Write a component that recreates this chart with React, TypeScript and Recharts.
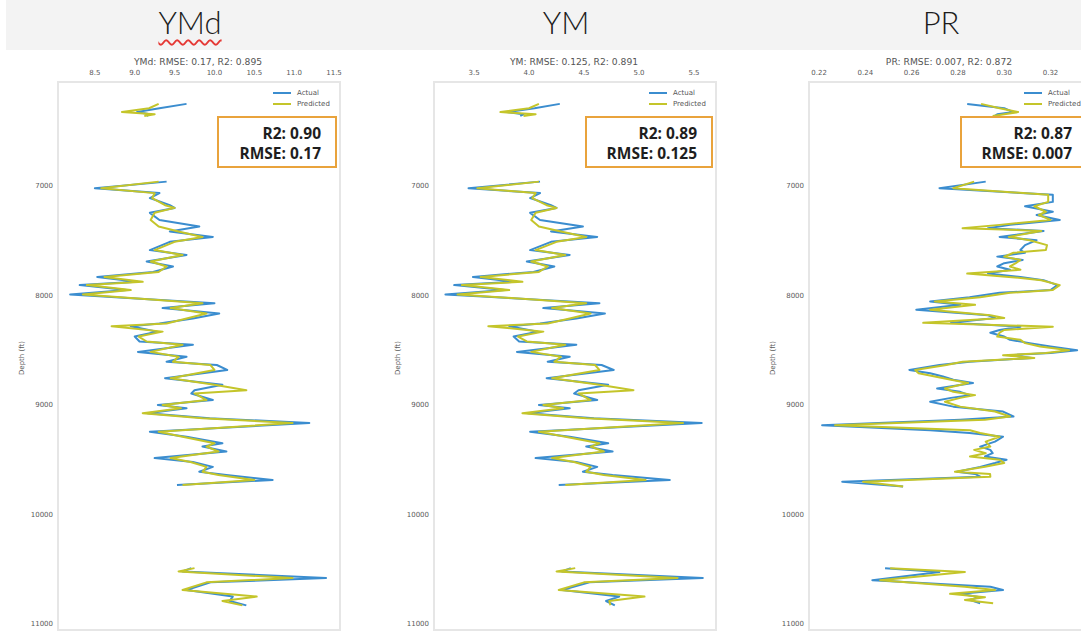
import React from 'react';
import { LineChart, Line, XAxis, YAxis } from 'recharts';

// depths (ft) shared by the YMd and YM panels; null rows mark the gaps between logged intervals
const ymDepth = [
  6250, 6290, 6325, 6345, 6360,
  6600,
  6960, 7020, 7065, 7110, 7175, 7200, 7245, 7310, 7370, 7415,
  7465, 7510, 7585, 7630, 7690, 7735, 7785, 7830, 7875, 7905,
  7950, 7990, 8070, 8115, 8165, 8210, 8255, 8280, 8330, 8375,
  8420, 8450, 8515, 8560, 8605, 8635, 8680, 8755, 8815, 8865,
  8895, 8955, 9000, 9030, 9075, 9120, 9165, 9245, 9290, 9350,
  9380, 9425, 9485, 9520, 9565, 9610, 9640, 9685, 9730,
  10100,
  10490, 10520, 10580, 10620, 10690, 10750, 10790, 10830,
];

const ymdActual = [
  9.65, 9.31, 9.03, 9.19, 9.15,
  null,
  9.40, 8.50, 9.31, 9.19, 9.44, 9.50, 9.19, 9.31, 9.81, 9.44,
  9.98, 9.44, 9.19, 9.65, 9.15, 9.48, 9.23, 8.53, 9.03, 8.31,
  8.90, 8.19, 10.00, 9.35, 10.06, 9.73, 9.31, 8.95, 9.28, 9.00,
  9.06, 9.73, 9.04, 9.65, 9.40, 10.03, 10.16, 9.38, 10.10, 9.75,
  9.71, 9.98, 9.29, 9.65, 9.16, 9.94, 11.19, 9.19, 9.65, 10.10,
  9.85, 10.15, 9.25, 9.73, 9.98, 9.81, 10.15, 10.73, 9.53,
  null,
  9.71, 9.60, 11.40, 9.95, 9.65, 10.23, 10.19, 10.40,
];

const ymdPredicted = [
  9.30, 9.18, 8.84, 9.25, 9.12,
  null,
  9.30, 8.58, 9.25, 9.22, 9.38, 9.50, 9.25, 9.20, 9.30, 9.55,
  9.85, 9.50, 9.25, 9.60, 9.20, 9.40, 9.30, 8.62, 9.10, 8.40,
  8.95, 8.35, 9.85, 9.45, 9.90, 9.65, 9.40, 8.71, 9.35, 9.05,
  9.15, 9.60, 9.20, 9.55, 9.48, 9.95, 10.00, 9.45, 10.00, 10.40,
  9.75, 9.90, 9.35, 9.58, 9.10, 9.85, 10.98, 9.30, 9.60, 10.00,
  9.90, 10.05, 9.45, 9.70, 9.90, 9.85, 10.05, 10.50, 9.60,
  null,
  9.75, 9.55, 10.98, 9.90, 9.60, 10.53, 10.10, 10.35,
];

const ymActual = [
  4.28, 4.05, 3.80, 3.95, 3.92,
  null,
  4.10, 3.45, 4.10, 4.01, 4.20, 4.25, 4.01, 4.10, 4.49, 4.20,
  4.62, 4.20, 4.01, 4.37, 3.98, 4.23, 4.04, 3.49, 3.88, 3.32,
  3.78, 3.24, 4.64, 4.13, 4.69, 4.43, 4.10, 3.82, 4.08, 3.86,
  3.91, 4.43, 3.89, 4.37, 4.17, 4.66, 4.77, 4.16, 4.72, 4.45,
  4.41, 4.62, 4.09, 4.37, 3.99, 4.59, 5.57, 4.01, 4.37, 4.72,
  4.52, 4.76, 4.06, 4.43, 4.62, 4.49, 4.76, 5.28, 4.27,
  null,
  4.38, 4.30, 5.58, 4.55, 4.30, 4.82, 4.70, 4.78,
];

const ymPredicted = [
  4.09, 4.00, 3.74, 4.06, 3.95,
  null,
  4.09, 3.53, 4.06, 4.03, 4.16, 4.25, 4.06, 4.02, 4.09, 4.29,
  4.52, 4.25, 4.06, 4.33, 4.02, 4.17, 4.09, 3.56, 3.94, 3.39,
  3.82, 3.35, 4.52, 4.21, 4.56, 4.37, 4.17, 3.63, 4.13, 3.90,
  3.98, 4.33, 4.02, 4.29, 4.23, 4.60, 4.64, 4.21, 4.64, 4.95,
  4.45, 4.56, 4.13, 4.31, 3.94, 4.52, 5.40, 4.09, 4.33, 4.64,
  4.56, 4.68, 4.21, 4.41, 4.56, 4.52, 4.68, 5.06, 4.33,
  null,
  4.42, 4.25, 5.35, 4.50, 4.27, 5.05, 4.73, 4.74,
];

const prDepth = [
  6250, 6290, 6325, 6345, 6360,
  6600,
  6960, 7020, 7080, 7145, 7185, 7235, 7265, 7310, 7355, 7385,
  7410, 7465, 7495, 7540, 7585, 7610, 7645, 7675, 7705, 7735,
  7765, 7800, 7830, 7860, 7905, 7950, 7975, 8015, 8055, 8085,
  8130, 8180, 8205, 8250, 8285, 8315, 8340, 8375, 8405, 8435,
  8465, 8500, 8525, 8545, 8570, 8605, 8635, 8680, 8710, 8740,
  8770, 8800, 8850, 8880, 8910, 8935, 8970, 9015, 9060, 9105,
  9135, 9185, 9230, 9255, 9290, 9335, 9380, 9410, 9440, 9470,
  9500, 9530, 9565, 9610, 9630, 9655, 9700, 9745,
  10100,
  10490, 10525, 10600, 10660, 10690, 10725, 10755, 10780, 10810,
];

const prActual = [
  0.284, 0.300, 0.304, 0.297, 0.296,
  null,
  0.292, 0.272, 0.321, 0.321, 0.309, 0.321, 0.314, 0.324, 0.3025, 0.293,
  0.317, 0.298, 0.314, 0.309, 0.307, 0.309, 0.297, 0.308, 0.300, 0.297,
  0.3025, 0.293, 0.307, 0.317, 0.323, 0.320, 0.298, 0.285, 0.268, 0.281,
  0.262, 0.293, 0.296, 0.277, 0.307, 0.298, 0.294, 0.300, 0.3025, 0.311,
  0.320, 0.3315, 0.320, 0.3025, 0.312, 0.285, 0.272, 0.259, 0.268, 0.2735,
  0.278, 0.2865, 0.271, 0.281, 0.285, 0.277, 0.268, 0.278, 0.2995, 0.304,
  0.281, 0.2213, 0.268, 0.285, 0.2995, 0.296, 0.2896, 0.294, 0.295, 0.2917,
  0.301, 0.296, 0.2896, 0.2796, 0.2874, 0.2896, 0.230, 0.2563,
  null,
  0.2485, 0.272, 0.243, 0.294, 0.2995, 0.281, 0.2896, 0.285, 0.2896,
];

const prPredicted = [
  0.290, 0.298, 0.306, 0.300, 0.295,
  null,
  0.287, 0.278, 0.319, 0.319, 0.313, 0.318, 0.315, 0.320, 0.298, 0.282,
  0.316, 0.302, 0.311, 0.3185, 0.318, 0.304, 0.300, 0.307, 0.305, 0.3025,
  0.307, 0.284, 0.302, 0.316, 0.324, 0.321, 0.3025, 0.2896, 0.270, 0.2874,
  0.268, 0.294, 0.300, 0.265, 0.321, 0.300, 0.298, 0.297, 0.307, 0.309,
  0.3155, 0.328, 0.318, 0.2995, 0.313, 0.282, 0.275, 0.2615, 0.263, 0.270,
  0.277, 0.2844, 0.2744, 0.278, 0.2874, 0.281, 0.2744, 0.281, 0.296, 0.3025,
  0.2917, 0.2269, 0.2852, 0.2896, 0.298, 0.292, 0.294, 0.287, 0.292, 0.2852,
  0.298, 0.300, 0.2917, 0.2787, 0.2939, 0.294, 0.239, 0.2563,
  null,
  0.2507, 0.283, 0.2464, 0.283, 0.296, 0.2766, 0.2917, 0.283, 0.2952,
];

const depthTicks = [7000, 8000, 9000, 10000, 11000];
const ymdTicks = [8.5, 9.0, 9.5, 10.0, 10.5, 11.0, 11.5];
const ymTicks = [3.5, 4.0, 4.5, 5.0, 5.5];
const prTicks = [0.22, 0.24, 0.26, 0.28, 0.3, 0.32];

const BLUE = '#3b8dcf';
const OLIVE = '#c4c52a';
const ORANGE = '#e9a33c';
const SEGMENTS = [0, 1, 2];

type PanelProps = {
  left: number;
  header: string;
  squiggle?: boolean;
  title: string;
  depth: number[];
  actual: (number | null)[];
  predicted: (number | null)[];
  domain: [number, number];
  ticks: number[];
  digits: number;
  r2: string;
  rmse: string;
};

const smallFont = { fontSize: 7, fill: '#5a5a5a', fontFamily: 'DejaVu Sans' };

// one row per depth; each logged interval gets its own keys so the lines stop at the gaps
function buildRows(depth: number[], actual: (number | null)[], predicted: (number | null)[]) {
  let seg = 0;
  const rows: Record<string, number>[] = [];
  depth.forEach((d, i) => {
    if (actual[i] == null) {
      seg += 1;
      return;
    }
    const row: Record<string, number> = { depth: d };
    row[`actual${seg}`] = actual[i] as number;
    row[`predicted${seg}`] = predicted[i] as number;
    rows.push(row);
  });
  return rows;
}

function Panel(p: PanelProps) {
  const rows = buildRows(p.depth, p.actual, p.predicted);
  return (
    <div style={{ position: 'absolute', left: p.left, top: 0, width: 360, height: 633 }}>
      <div
        style={{
          position: 'absolute', left: 190, top: 22, transform: 'translate(-50%, -50%)',
          fontFamily: 'Lato', fontWeight: 300, fontSize: 31, color: '#1c1c1c', whiteSpace: 'nowrap',
          textDecorationLine: p.squiggle ? 'underline' : 'none',
          textDecorationStyle: 'wavy', textDecorationColor: '#e53935',
          textDecorationThickness: 1.5, textUnderlineOffset: 5,
        }}
      >
        {p.header}
      </div>
      <div
        style={{
          position: 'absolute', left: 198, top: 61, transform: 'translate(-50%, -50%)',
          fontFamily: 'DejaVu Sans', fontSize: 9.2, color: '#555', whiteSpace: 'nowrap',
        }}
      >
        {p.title}
      </div>
      <div
        style={{
          position: 'absolute', left: 57, top: 81, width: 284, height: 550,
          border: '2px solid #e6e6e6', boxSizing: 'border-box',
        }}
      />
      <div
        style={{
          position: 'absolute', left: 22, top: 358, transform: 'translate(-50%, -50%) rotate(-90deg)',
          fontFamily: 'DejaVu Sans', fontSize: 7, color: '#5a5a5a', whiteSpace: 'nowrap',
        }}
      >
        Depth (ft)
      </div>
      <div style={{ position: 'absolute', left: 0, top: 0 }}>
        <LineChart
          layout="vertical"
          width={360}
          height={633}
          data={rows}
          margin={{ top: 61, right: 20, bottom: 3, left: 12 }}
        >
          <XAxis
            type="number"
            orientation="top"
            domain={p.domain}
            ticks={p.ticks}
            interval={0}
            allowDataOverflow
            height={20}
            axisLine={false}
            tickLine={false}
            tickSize={4}
            tickMargin={2}
            tick={smallFont}
            tickFormatter={(v: number) => v.toFixed(p.digits)}
          />
          <YAxis
            type="number"
            dataKey="depth"
            domain={[6041, 11055]}
            ticks={depthTicks}
            interval={0}
            allowDataOverflow
            width={45}
            axisLine={false}
            tickLine={false}
            tickSize={2}
            tickMargin={2}
            tick={smallFont}
          />
          {SEGMENTS.map((s) => (
            <Line
              key={`a${s}`}
              dataKey={`actual${s}`}
              stroke={BLUE}
              strokeWidth={2}
              strokeLinejoin="round"
              dot={false}
              isAnimationActive={false}
            />
          ))}
          {SEGMENTS.map((s) => (
            <Line
              key={`p${s}`}
              dataKey={`predicted${s}`}
              stroke={OLIVE}
              strokeWidth={2}
              strokeLinejoin="round"
              dot={false}
              isAnimationActive={false}
            />
          ))}
        </LineChart>
      </div>
      <div style={{ position: 'absolute', left: 273, top: 87, fontFamily: 'DejaVu Sans', fontSize: 7, color: '#555' }}>
        {[
          ['Actual', BLUE],
          ['Predicted', OLIVE],
        ].map(([name, color]) => (
          <div key={name} style={{ display: 'flex', alignItems: 'center', height: 11 }}>
            <span style={{ display: 'inline-block', width: 18, height: 2, background: color, marginRight: 6 }} />
            <span>{name}</span>
          </div>
        ))}
      </div>
      <div
        style={{
          position: 'absolute', right: 360 - 337, top: 116, height: 52, boxSizing: 'border-box',
          border: `2px solid ${ORANGE}`, background: '#fff', padding: '5px 14px 0 20px',
          fontFamily: 'Open Sans', fontWeight: 700, fontSize: 15.5, lineHeight: '20px',
          color: '#1e1e1e', textAlign: 'right', whiteSpace: 'nowrap',
        }}
      >
        <div>R2: {p.r2}</div>
        <div>RMSE: {p.rmse}</div>
      </div>
    </div>
  );
}

export default function App() {
  return (
    <div style={{ position: 'fixed', left: 0, top: 0, width: 1081, height: 633, overflow: 'hidden', background: '#fff' }}>
      <div style={{ position: 'absolute', left: 6, top: 0, right: 0, height: 50, background: '#f3f3f3' }} />
      <Panel
        left={0}
        header="YMd"
        squiggle
        title="YMd: RMSE: 0.17, R2: 0.895"
        depth={ymDepth}
        actual={ymdActual}
        predicted={ymdPredicted}
        domain={[8.025, 11.575]}
        ticks={ymdTicks}
        digits={1}
        r2="0.90"
        rmse="0.17"
      />
      <Panel
        left={376}
        header="YM"
        title="YM: RMSE: 0.125, R2: 0.891"
        depth={ymDepth}
        actual={ymActual}
        predicted={ymPredicted}
        domain={[3.127, 5.7]}
        ticks={ymTicks}
        digits={1}
        r2="0.89"
        rmse="0.125"
      />
      <Panel
        left={751}
        header="PR"
        title="PR: RMSE: 0.007, R2: 0.872"
        depth={prDepth}
        actual={prActual}
        predicted={prPredicted}
        domain={[0.2152, 0.3375]}
        ticks={prTicks}
        digits={2}
        r2="0.87"
        rmse="0.007"
      />
    </div>
  );
}
